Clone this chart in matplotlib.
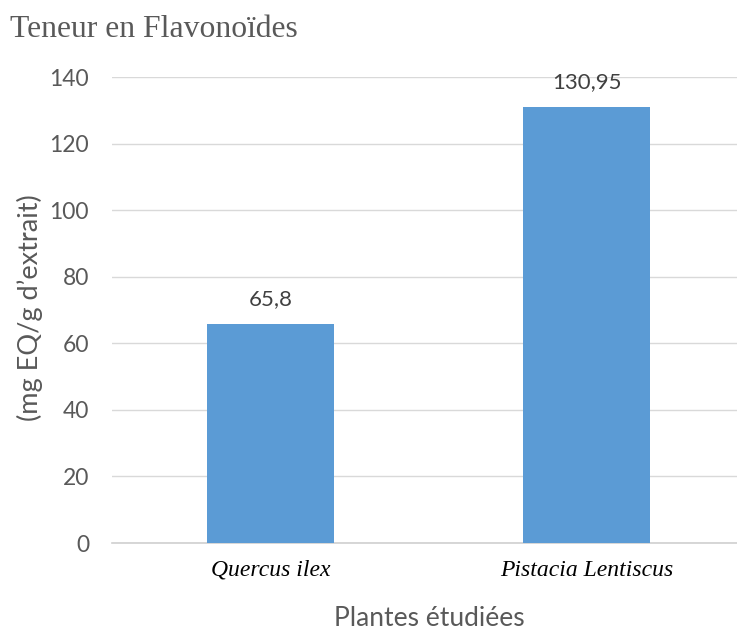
import matplotlib
matplotlib.use("Agg")
import matplotlib.pyplot as plt

categories = ["Quercus ilex", "Pistacia Lentiscus"]
values = [65.8, 130.95]
value_labels = ["65,8", "130,95"]
yticks = [0, 20, 40, 60, 80, 100, 120, 140]

W, H = 737, 630
fig = plt.figure(figsize=(W / 100, H / 100), dpi=100)
left, right = 112 / W, 1.0
bottom, top = (H - 543) / H, (H - 77) / H
ax = fig.add_axes([left, bottom, right - left, top - bottom])

x = list(range(len(categories)))
ax.bar(x, values, width=0.40, color="#5b9bd5", zorder=3)
ax.set_xlim(-0.5016, 1.476)
ax.set_ylim(0, 140)
ax.set_yticks(yticks)
ax.set_yticklabels([str(t) for t in yticks], family="Lato", fontsize=16.5, color="#595959")
ax.grid(axis="y", color="#d9d9d9", linewidth=1.0, zorder=0)
for s in ["top", "right", "left"]:
    ax.spines[s].set_visible(False)
ax.spines["bottom"].set_color("#d0d0d0")
ax.spines["bottom"].set_linewidth(1.2)
ax.tick_params(axis="y", length=0, pad=16.5)
ax.tick_params(axis="x", length=0, pad=12)
ax.set_xticks(x)
ax.set_xticklabels(categories, family="Liberation Serif", style="italic", fontsize=17, color="#000000")

for xi, v, lab in zip(x, values, value_labels):
    ax.annotate(lab, (xi, v), xytext=(0, 18), textcoords="offset points",
                ha="center", va="center", family="Lato", fontsize=16, color="#404040")

fig.text(10 / W, 1 - 37 / H, "Teneur en Flavonoïdes", family="Liberation Serif",
         fontsize=22.8, color="#595959", ha="left", va="baseline")
fig.text(30 / W, 1 - 308 / H, "(mg EQ/g d\u2019extrait)", family="Lato", fontsize=19.5,
         color="#595959", rotation=90, ha="center", va="center")
fig.text(429 / W, 1 - 619 / H, "Plantes étudiées", family="Lato", fontsize=19,
         color="#595959", ha="center", va="center")

fig.savefig("out.png", dpi=100, facecolor="white")
